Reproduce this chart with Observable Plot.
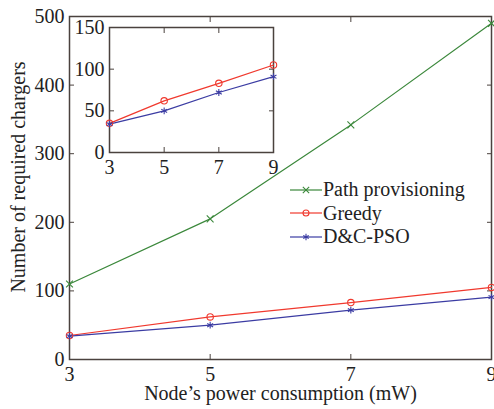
<!DOCTYPE html>
<html>
<head>
<meta charset="utf-8">
<script src="https://cdn.jsdelivr.net/npm/d3@7"></script>
<script src="https://cdn.jsdelivr.net/npm/@observablehq/plot@0.6"></script>
<style>
  html, body { margin: 0; padding: 0; background: #fff; }
  #wrap { position: relative; width: 494px; height: 409px; font-family: "Liberation Serif", "Times New Roman", "DejaVu Serif", serif; }
  #wrap svg { position: absolute; left: 0; top: 0; overflow: visible; }
  #legend { position: absolute; left: 289px; top: 178px; font-size: 20px; color: #222; }
  #legend .row { display: flex; align-items: center; height: 23.5px; }
  #legend svg { position: static; }
  #ylabel { position: absolute; left: 18px; top: 177px; font-size: 20px; color: #222; white-space: nowrap;
            transform: translate(-50%, -50%) rotate(-90deg); line-height: 1; }
</style>
</head>
<body>
<div id="wrap"></div>
<script>
// ---- data ----
const xValues = [3, 5, 7, 9];
const seriesNames = ["Path provisioning", "Greedy", "D&C-PSO"];
const pathProvisioning = [110, 205, 342, 490];
const greedy = [35, 62, 83, 105];
const dcPso = [34, 50, 72, 91];
const mainYTicks = [0, 100, 200, 300, 400, 500];
const insetYTicks = [0, 50, 100, 150];
const xTicks = [3, 5, 7, 9];
const seriesColors = ["#3b883b", "#f0392e", "#3b3ca3"];
const seriesSymbols = ["times", "circle", "asterisk"];
const xLabel = "Node’s power consumption (mW)";
const yLabel = "Number of required chargers";

const seriesValues = [pathProvisioning, greedy, dcPso];
const rows = [];
seriesNames.forEach((name, i) => xValues.forEach((x, j) => rows.push({series: name, x, y: seriesValues[i][j]})));
const insetRows = rows.filter(d => d.series !== "Path provisioning");

const axisColor = "#4a423e";
const textColor = "#222";
const fontStack = "'Liberation Serif', 'Times New Roman', 'DejaVu Serif', serif";

function axes(yTicks, withLabels) {
  return [
    Plot.axisX({ticks: xTicks, tickFormat: d => String(d), tickSize: -5, tickPadding: 12, stroke: axisColor, fill: textColor,
      label: withLabels ? xLabel : null, labelAnchor: "center", labelOffset: 40, labelArrow: "none"}),
    Plot.axisX({anchor: "top", ticks: xTicks, tickSize: -5, tickFormat: () => "", stroke: axisColor, label: null}),
    Plot.axisY({ticks: yTicks, tickFormat: d => String(d), tickSize: -5, tickPadding: 10, stroke: axisColor, fill: textColor,
      label: null}),
    Plot.axisY({anchor: "right", ticks: yTicks, tickSize: -5, tickFormat: () => "", stroke: axisColor, label: null}),
    Plot.frame({stroke: axisColor, strokeWidth: 1.5})
  ];
}

const scales = {
  color: {domain: seriesNames, range: seriesColors},
  symbol: {domain: seriesNames, range: seriesSymbols}
};

const main = Plot.plot({
  width: 494, height: 409,
  marginLeft: 69, marginRight: 3, marginTop: 16, marginBottom: 50,
  style: {fontFamily: fontStack, fontSize: "20px", background: "transparent", overflow: "visible"},
  x: {domain: [3, 9]},
  y: {domain: [0, 500]},
  ...scales,
  marks: [
    ...axes(mainYTicks, true),
    Plot.line(rows, {x: "x", y: "y", z: "series", stroke: "series", strokeWidth: 1.2}),
    Plot.dot(rows, {x: "x", y: "y", stroke: "series", symbol: "series", fill: "none", r: 3.2, strokeWidth: 1.1})
  ]
});

const inset = Plot.plot({
  width: 300, height: 185,
  marginLeft: 109, marginRight: 27, marginTop: 27, marginBottom: 33,
  style: {fontFamily: fontStack, fontSize: "20px", background: "transparent", overflow: "visible"},
  x: {domain: [3, 9]},
  y: {domain: [0, 150]},
  ...scales,
  marks: [
    ...axes(insetYTicks, false),
    Plot.line(insetRows, {x: "x", y: "y", z: "series", stroke: "series", strokeWidth: 1.2}),
    Plot.dot(insetRows, {x: "x", y: "y", stroke: "series", symbol: "series", fill: "none", r: 3.2, strokeWidth: 1.1})
  ]
});

const wrap = document.getElementById("wrap");
wrap.appendChild(main);
wrap.appendChild(inset);

// y-axis title
const yl = document.createElement("div");
yl.id = "ylabel";
yl.textContent = yLabel;
wrap.appendChild(yl);

// legend
const legend = document.createElement("div");
legend.id = "legend";
const symMap = {times: d3.symbolTimes, circle: d3.symbolCircle, asterisk: d3.symbolAsterisk};
seriesNames.forEach((name, i) => {
  const row = document.createElement("div");
  row.className = "row";
  const sw = d3.create("svg").attr("width", 34).attr("height", 20);
  sw.append("line").attr("x1", 1).attr("x2", 33).attr("y1", 10).attr("y2", 10)
    .attr("stroke", seriesColors[i]).attr("stroke-width", 1.2);
  sw.append("path").attr("transform", "translate(17,10)")
    .attr("d", d3.symbol(symMap[seriesSymbols[i]], 28)())
    .attr("fill", "none").attr("stroke", seriesColors[i]).attr("stroke-width", 1.1);
  row.appendChild(sw.node());
  const t = document.createElement("span");
  t.textContent = name;
  row.appendChild(t);
  legend.appendChild(row);
});
wrap.appendChild(legend);
</script>
</body>
</html>
